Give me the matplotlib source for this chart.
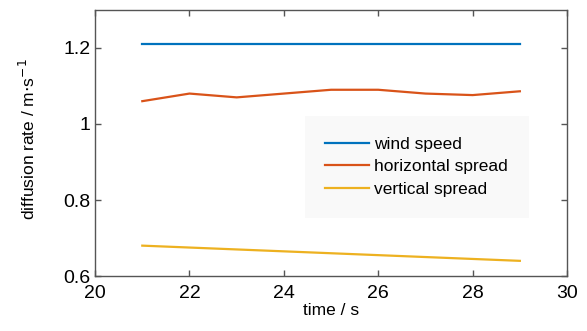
import numpy as np
import matplotlib.pyplot as plt

plt.rcParams['font.family'] = ['Liberation Sans', 'DejaVu Sans']

# data
time = [21, 22, 23, 24, 25, 26, 27, 28, 29]
wind_speed = [1.21, 1.21, 1.21, 1.21, 1.21, 1.21, 1.21, 1.21, 1.21]
horizontal = [1.06, 1.08, 1.07, 1.08, 1.09, 1.09, 1.08, 1.076, 1.086]
vertical = [0.68, 0.675, 0.67, 0.665, 0.66, 0.655, 0.65, 0.645, 0.64]

fig = plt.figure(figsize=(5.87, 3.31), dpi=100)
ax = fig.add_axes([0.162, 0.166, 0.804, 0.804])

ax.plot(time, wind_speed, color='#0072BD', lw=1.6, label='wind speed')
ax.plot(time, horizontal, color='#D95319', lw=1.6, label='horizontal spread')
ax.plot(time, vertical, color='#EDB120', lw=1.6, label='vertical spread')

ax.set_xlim(20, 30)
ax.set_ylim(0.6, 1.3)
ax.set_xticks([20, 22, 24, 26, 28, 30])
ax.set_yticks([0.6, 0.8, 1.0, 1.2])
ax.set_yticklabels(['0.6', '0.8', '1', '1.2'])
ax.tick_params(direction='in', top=True, right=True, length=4, width=1,
               color='#555555', labelsize=14)
ax.tick_params(axis='x', pad=6.5)
ax.tick_params(axis='y', pad=3.5)
for s in ax.spines.values():
    s.set_color('#555555')
    s.set_linewidth(1)

ax.set_xlabel('time / s', fontsize=12.5)
ax.set_ylabel(r'diffusion rate / m$\cdot$s$^{-1}$', fontsize=12.5)
ax.xaxis.set_label_coords(0.5, -0.103)
ax.yaxis.set_label_coords(-0.12, 0.513)

leg = ax.legend(loc='upper left', bbox_to_anchor=(0.504, 0.677),
                bbox_transform=fig.transFigure, fontsize=12.5, frameon=True,
                fancybox=False, handlelength=2.5, handletextpad=0.3,
                labelspacing=0.44, borderpad=1.2)
leg.get_frame().set_facecolor('#f9f9f9')
leg.get_frame().set_edgecolor('none')
leg.get_frame().set_alpha(1)

fig.savefig('out.png', dpi=100)
